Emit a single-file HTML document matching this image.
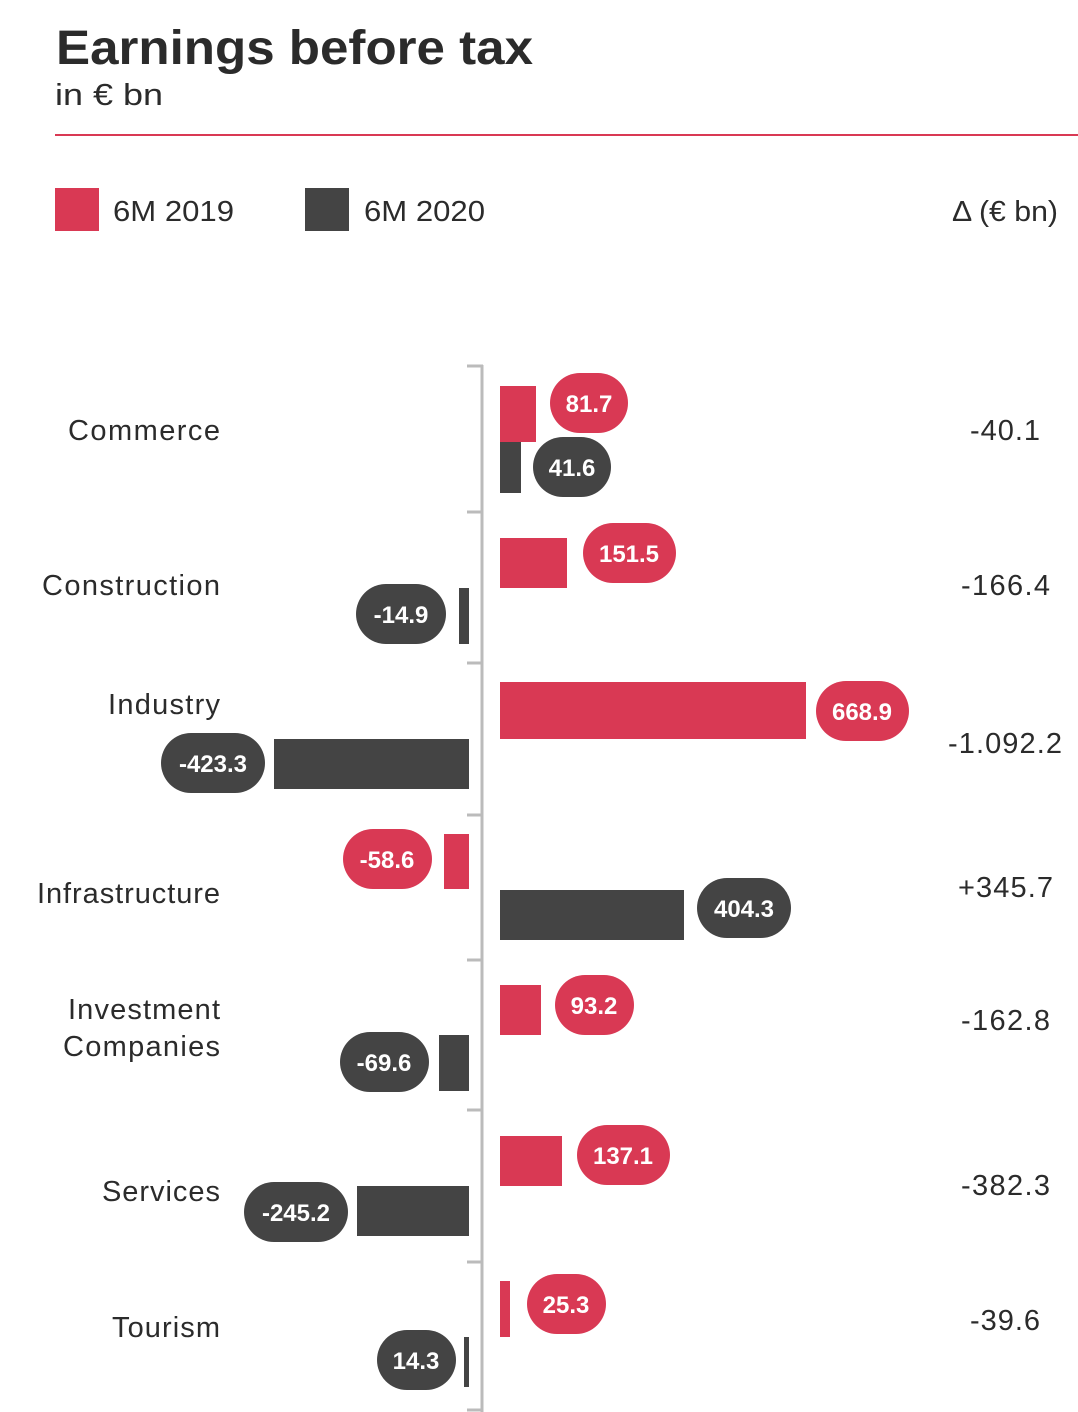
<!DOCTYPE html>
<html><head><meta charset="utf-8"><style>
html,body{margin:0;padding:0;background:#fff}
svg{display:block}
text{font-family:"Liberation Sans",Arial,sans-serif}
</style></head><body>
<svg width="1078" height="1412" viewBox="0 0 1078 1412" xmlns="http://www.w3.org/2000/svg">
<text x="56" y="64" font-size="48" font-weight="bold" fill="#2b2b2b" textLength="477" lengthAdjust="spacingAndGlyphs">Earnings before tax</text>
<text x="55" y="105" font-size="31" fill="#2b2b2b" textLength="108" lengthAdjust="spacingAndGlyphs">in € bn</text>
<rect x="55" y="134" width="1023" height="2" fill="#d93954"/>
<rect x="55" y="188" width="44" height="43" fill="#d93954"/>
<text x="113" y="221" font-size="29" fill="#2b2b2b" textLength="121" lengthAdjust="spacingAndGlyphs">6M 2019</text>
<rect x="305" y="188" width="44" height="43" fill="#444"/>
<text x="364" y="221" font-size="29" fill="#2b2b2b" textLength="121" lengthAdjust="spacingAndGlyphs">6M 2020</text>
<text x="952" y="221" font-size="29" fill="#2b2b2b" textLength="106" lengthAdjust="spacingAndGlyphs">Δ (€ bn)</text>

<g fill="none" stroke="#bbb" stroke-width="3">
<line x1="482" y1="365" x2="482" y2="1412"/>
<line x1="467" y1="366" x2="483" y2="366"/>
<line x1="467" y1="512" x2="483" y2="512"/>
<line x1="467" y1="663" x2="483" y2="663"/>
<line x1="467" y1="815" x2="483" y2="815"/>
<line x1="467" y1="960" x2="483" y2="960"/>
<line x1="467" y1="1110" x2="483" y2="1110"/>
<line x1="467" y1="1262" x2="483" y2="1262"/>
<line x1="467" y1="1410" x2="483" y2="1410"/>
</g>

<g font-size="29" fill="#2b2b2b" lengthAdjust="spacingAndGlyphs">
<text x="68" y="440" textLength="152">Commerce</text>
<text x="42" y="595" textLength="178">Construction</text>
<text x="108" y="714" textLength="112">Industry</text>
<text x="37" y="903" textLength="183">Infrastructure</text>
<text x="68" y="1019" textLength="152">Investment</text>
<text x="63" y="1056" textLength="157">Companies</text>
<text x="102" y="1201" textLength="118">Services</text>
<text x="112" y="1337" textLength="108">Tourism</text>
</g>
<g font-size="29" fill="#2b2b2b" lengthAdjust="spacingAndGlyphs">
<text x="970" y="440" textLength="70">-40.1</text>
<text x="961" y="595" textLength="89">-166.4</text>
<text x="948" y="753" textLength="114">-1.092.2</text>
<text x="958" y="897" textLength="95">+345.7</text>
<text x="961" y="1030" textLength="89">-162.8</text>
<text x="961" y="1195" textLength="89">-382.3</text>
<text x="970" y="1330" textLength="70">-39.6</text>
</g>

<g fill="#d93954">
<rect x="500" y="386" width="36" height="56"/>
<rect x="500" y="538" width="67" height="50"/>
<rect x="500" y="682" width="306" height="57"/>
<rect x="444" y="834" width="25" height="55"/>
<rect x="500" y="985" width="41" height="50"/>
<rect x="500" y="1136" width="62" height="50"/>
<rect x="500" y="1281" width="10" height="56"/>
<rect x="550" y="373" width="78" height="60" rx="30"/>
<rect x="583" y="523" width="93" height="60" rx="30"/>
<rect x="816" y="681" width="93" height="60" rx="30"/>
<rect x="343" y="829" width="89" height="60" rx="30"/>
<rect x="555" y="975" width="79" height="60" rx="30"/>
<rect x="577" y="1125" width="93" height="60" rx="30"/>
<rect x="527" y="1274" width="79" height="60" rx="30"/>
</g>
<g fill="#444">
<rect x="500" y="442" width="21" height="51"/>
<rect x="459" y="588" width="10" height="56"/>
<rect x="274" y="739" width="195" height="50"/>
<rect x="500" y="890" width="184" height="50"/>
<rect x="439" y="1035" width="30" height="56"/>
<rect x="357" y="1186" width="112" height="50"/>
<rect x="464" y="1337" width="5" height="50"/>
<rect x="533" y="437" width="78" height="60" rx="30"/>
<rect x="356" y="584" width="90" height="60" rx="30"/>
<rect x="161" y="733" width="104" height="60" rx="30"/>
<rect x="697" y="878" width="94" height="60" rx="30"/>
<rect x="340" y="1032" width="89" height="60" rx="30"/>
<rect x="244" y="1182" width="104" height="60" rx="30"/>
<rect x="377" y="1330" width="79" height="60" rx="30"/>
</g>
<g font-size="24" font-weight="bold" fill="#fff" text-anchor="middle">
<text x="589" y="412">81.7</text>
<text x="572" y="476">41.6</text>
<text x="629" y="562">151.5</text>
<text x="401" y="623">-14.9</text>
<text x="862" y="720">668.9</text>
<text x="213" y="772">-423.3</text>
<text x="387" y="868">-58.6</text>
<text x="744" y="917">404.3</text>
<text x="594" y="1014">93.2</text>
<text x="384" y="1071">-69.6</text>
<text x="623" y="1164">137.1</text>
<text x="296" y="1221">-245.2</text>
<text x="566" y="1313">25.3</text>
<text x="416" y="1369">14.3</text>
</g>
</svg>
</body></html>
